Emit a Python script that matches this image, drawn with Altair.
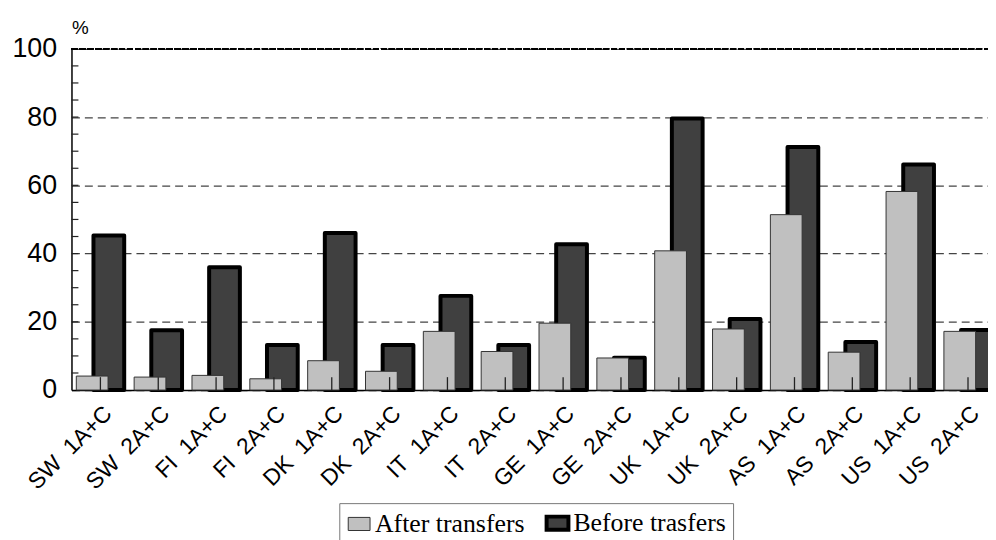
import altair as alt
import pandas as pd

NB = "\u00a0\u00a0"
categories = ["SW" + NB + "1A+C", "SW" + NB + "2A+C", "FI" + NB + "1A+C", "FI" + NB + "2A+C",
              "DK" + NB + "1A+C", "DK" + NB + "2A+C", "IT" + NB + "1A+C", "IT" + NB + "2A+C",
              "GE" + NB + "1A+C", "GE" + NB + "2A+C", "UK" + NB + "1A+C", "UK" + NB + "2A+C",
              "AS" + NB + "1A+C", "AS" + NB + "2A+C", "US" + NB + "1A+C", "US" + NB + "2A+C"]
after = [4.1, 3.8, 4.3, 3.3, 8.6, 5.5, 17.2, 11.3, 19.6, 9.4, 40.8, 17.9, 51.4, 11.1, 58.2, 17.2]
before = [45.3, 17.5, 36.0, 13.2, 46.0, 13.2, 27.6, 13.2, 42.7, 9.5, 79.6, 20.8, 71.2, 14.1, 66.1, 17.6]
series = ["After transfers", "Before trasfers"]
y_ticks = [0, 20, 40, 60, 80, 100]
y_minor = [5, 10, 15, 20, 25, 30, 35, 40, 45, 50, 55, 60, 65, 70, 75, 80, 85, 90, 95]

rows = []
for c, a, b in zip(categories, after, before):
    rows.append({"cat": c, "series": series[0], "value": a})
    rows.append({"cat": c, "series": series[1], "value": b})
df = pd.DataFrame(rows)
cat_df = pd.DataFrame({"cat": categories})
minor_df = pd.DataFrame({"v": y_minor})

x_scale = alt.Scale(domain=categories, range=[0, 933], paddingInner=0, paddingOuter=0)
y_scale = alt.Scale(domain=[0, 100], nice=False)

x_enc = alt.X("cat:N", sort=categories, scale=x_scale,
              axis=alt.Axis(title=None, labelAngle=-45, labelFont="Liberation Sans",
                            labelFontSize=23, labelColor="black", labelPadding=12,
                            ticks=False, domainColor="black", domainWidth=1.5,
                            labelLimit=300))
y_enc = alt.Y("value:Q", scale=y_scale,
              axis=alt.Axis(title="%", titleAngle=0, titleAlign="left", titleX=0, titleY=-15,
                            titleBaseline="alphabetic", titleFont="Liberation Sans",
                            titleFontSize=19, titleFontWeight="normal", titleColor="black",
                            values=y_ticks, labelFont="Liberation Sans", labelFontSize=27,
                            labelColor="black", labelPadding=15, ticks=False,
                            domainColor="black", domainWidth=1.5,
                            grid=True, gridColor="#444444", gridDash=[8, 5], gridWidth=1.3))

fill_enc = alt.Fill("series:N", scale=alt.Scale(domain=series, range=["#c0c0c0", "#404040"]),
                    legend=alt.Legend(title=None, orient="none", legendX=270, legendY=458,
                                      direction="horizontal",
                                      symbolType="M-1,-0.6H1V0.6H-1Z", symbolSize=484,
                                      labelFont="Liberation Serif", labelFontSize=26,
                                      labelColor="black", labelOffset=3,
                                      columnPadding=14, padding=7,
                                      strokeColor="#777777", fillColor="white"))
stroke_enc = alt.Stroke("series:N", scale=alt.Scale(domain=series, range=["#333333", "#000000"]),
                        legend=alt.Legend(title=None))
sw_enc = alt.StrokeWidth("series:N", scale=alt.Scale(domain=series, range=[1, 4]),
                         legend=alt.Legend(title=None))

base = alt.Chart(df)

dark = base.transform_filter(alt.datum.series == series[1]).mark_bar(
    width=31, xOffset=8.5, strokeJoin="round"
).encode(x=x_enc, y=y_enc, fill=fill_enc, stroke=stroke_enc, strokeWidth=sw_enc)

light = base.transform_filter(alt.datum.series == series[0]).mark_bar(
    width=32, xOffset=-8.3
).encode(x=x_enc, y=y_enc, fill=fill_enc, stroke=stroke_enc, strokeWidth=sw_enc)

xticks = alt.Chart(cat_df).mark_rule(color="#222222", strokeWidth=1.3).encode(
    x=alt.X("cat:N", sort=categories, scale=x_scale),
    y=alt.value(331), y2=alt.value(344)
)

yticks = alt.Chart(minor_df).mark_rule(color="#222222", strokeWidth=1.2).encode(
    y=alt.Y("v:Q", scale=y_scale),
    x=alt.value(0), x2=alt.value(7)
)

top_line = alt.Chart(cat_df).mark_rule(color="black", strokeWidth=1.2, strokeDash=[6, 2]).encode(
    y=alt.datum(100, scale=y_scale), x=alt.value(0), x2=alt.value(924)
)

chart = alt.layer(dark, light, xticks, yticks, top_line).properties(
    width=924, height=344,
    autosize=alt.AutoSizeParams(type="none"),
    padding={"left": 64, "top": 39, "right": 0, "bottom": 149},
    background="white"
).configure_view(stroke=None)

chart.save("out.html", embed_options={"renderer": "svg", "actions": False})
